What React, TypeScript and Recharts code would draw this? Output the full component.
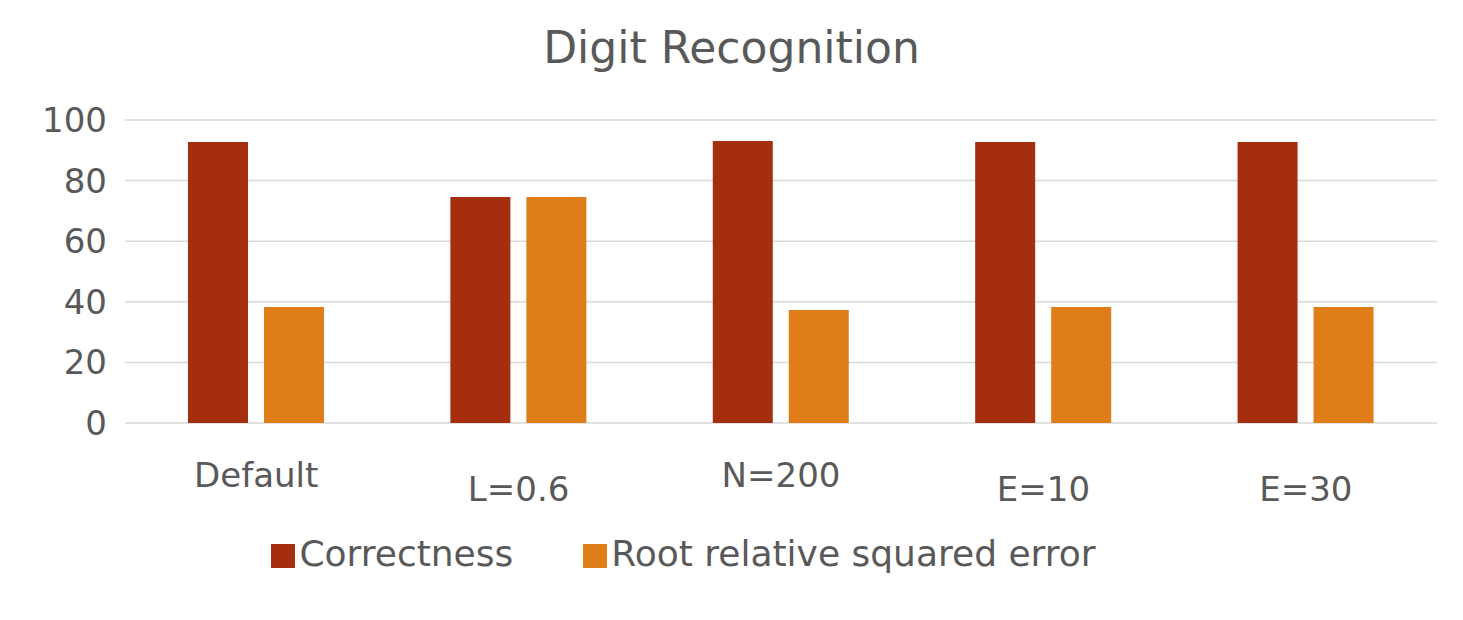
import React from 'react'
import { Bar, BarChart, CartesianGrid, Legend, XAxis, YAxis } from 'recharts'

const categories = ['Default', 'L=0.6', 'N=200', 'E=10', 'E=30']
const correctness = [92.7, 74.6, 93.1, 92.7, 92.7]
const rrse = [38.3, 74.6, 37.3, 38.3, 38.3]
const yTicks = [0, 20, 40, 60, 80, 100]

const data = categories.map((name, i) => ({ name, correctness: correctness[i], rrse: rrse[i] }))

const labelDy = [56, 70, 56, 70, 70]
const font = '"DejaVu Sans", sans-serif'

const XTick = (props: any) => {
  const { x, y, payload, index } = props
  return (
    <text x={x} y={y} dy={labelDy[index] ?? 60} textAnchor="middle" fill="#595959" fontSize={34} fontFamily={font}>
      {payload.value}
    </text>
  )
}

export default function App() {
  return (
    <div style={{ position: 'fixed', left: 0, top: 0, width: 1463, height: 620, background: '#fff' }}>
      <div style={{ position: 'absolute', top: 22, width: 1463, textAlign: 'center', fontSize: 44, color: '#595959', fontFamily: font }}>
        Digit Recognition
      </div>
      <BarChart width={1463} height={620} data={data} margin={{ top: 120, right: 26, left: 0, bottom: 0 }}
        barCategoryGap="24%" barGap={16}>
        <CartesianGrid vertical={false} stroke="#d9d9d9" strokeWidth={1.5} />
        <XAxis dataKey="name" axisLine={false} tickLine={false} height={110} tick={<XTick />} />
        <YAxis domain={[0, 100]} ticks={yTicks} width={125} axisLine={false} tickLine={false}
          tick={{ fill: '#595959', fontSize: 34, fontFamily: font }} tickMargin={12} />
        <Legend verticalAlign="bottom" iconType="square" iconSize={24} height={87}
          wrapperStyle={{ fontSize: 36, fontFamily: font, color: '#595959' }}
          formatter={(v) => <span style={{ color: '#595959', marginRight: 60 }}>{v}</span>} />
        <Bar dataKey="correctness" name="Correctness" fill="#a52e0f" isAnimationActive={false} />
        <Bar dataKey="rrse" name="Root relative squared error" fill="#df7e18" isAnimationActive={false} />
      </BarChart>
    </div>
  )
}
